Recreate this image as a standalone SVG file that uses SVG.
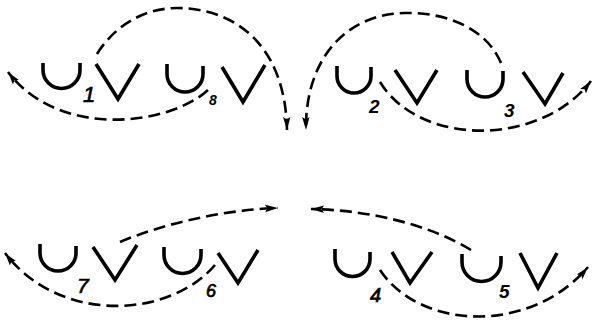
<svg xmlns="http://www.w3.org/2000/svg" width="593" height="321" viewBox="0 0 593 321">
<defs>
<marker id="ah" markerUnits="userSpaceOnUse" markerWidth="16" markerHeight="10" refX="13" refY="5" orient="auto">
<path d="M0,1.3 L13,5 L0,8.7 L2.5,5 z" fill="#000"/>
</marker>
</defs>
<style>
.g{fill:none;stroke:#000;stroke-width:3.6;stroke-linecap:butt;stroke-linejoin:miter}
.c{fill:none;stroke:#000;stroke-width:2.6;stroke-dasharray:12 6}
.a{marker-end:url(#ah)}
.t{font-family:"Liberation Sans",Arial,sans-serif;font-style:italic;fill:#000}
.b{font-weight:bold}
.n{font-weight:normal;stroke:#000;stroke-width:0.7}
</style>
<rect width="593" height="321" fill="#fff"/>
<g id="connectors">
<path class="c a" d="M97,54 C115,25 145,8 177,8 C230,8 285,40 287,130"/>
<path class="c a" d="M208,90 C170,125 60,140 8,72"/>
<path class="c a" d="M501,63 C485,25 440,12 405,13 C345,14 305,60 306,130"/>
<path class="c a" d="M380,82 C420,147 540,147 591,81"/>
<path class="c a" d="M120,242 C160,225 220,210 278,208"/>
<path class="c a" d="M215,265 C170,318 60,325 5,253"/>
<path class="c a" d="M471,250 C430,225 370,210 311,209"/>
<path class="c a" d="M380,270 C420,330 530,335 588,267"/>
</g>
<g id="n1">
<path class="g" d="M43,63 V70 A18.5,18.5 0 0 0 80,70 V63"/>
<text class="t n" x="83" y="102" font-size="22">1</text>
<path class="g" d="M96,64 L118,99 L139,64"/>
</g>
<g id="n8">
<path class="g" d="M167,64 V74 A18,18 0 0 0 203,74 V66"/>
<text class="t b" x="209" y="105" font-size="14">8</text>
<path class="g" d="M222,67 L243,102 L265,65"/>
</g>
<g id="n2">
<path class="g" d="M337,66 V76 A17,17 0 0 0 371,76 V67"/>
<text class="t b" x="369" y="113" font-size="19">2</text>
<path class="g" d="M395,70 L417,103 L437,70"/>
</g>
<g id="n3">
<path class="g" d="M467,70 V79 A18,18 0 0 0 503,79 V71"/>
<text class="t b" x="504" y="117" font-size="19">3</text>
<path class="g" d="M523,72 L545,104 L563,73"/>
</g>
<g id="n7">
<path class="g" d="M40,244 V253 A18,18 0 0 0 76,253 V246"/>
<text class="t n" x="77" y="293" font-size="21">7</text>
<path class="g" d="M93,247 L115,280 L137,245"/>
</g>
<g id="n6">
<path class="g" d="M164,247 V255 A18.5,18.5 0 0 0 201,255 V249"/>
<text class="t n" x="206" y="297" font-size="18">6</text>
<path class="g" d="M218,253 L238,283 L258,250"/>
</g>
<g id="n4">
<path class="g" d="M335,249 V259 A17.5,17.5 0 0 0 370,259 V252"/>
<text class="t n" x="370" y="302" font-size="20">4</text>
<path class="g" d="M392,252 L410,283 L432,252"/>
</g>
<g id="n5">
<path class="g" d="M462,254 V262 A19.5,19.5 0 0 0 501,262 V256"/>
<text class="t b" x="499" y="298" font-size="19">5</text>
<path class="g" d="M520,253 L538,288 L557,253"/>
</g>
</svg>
